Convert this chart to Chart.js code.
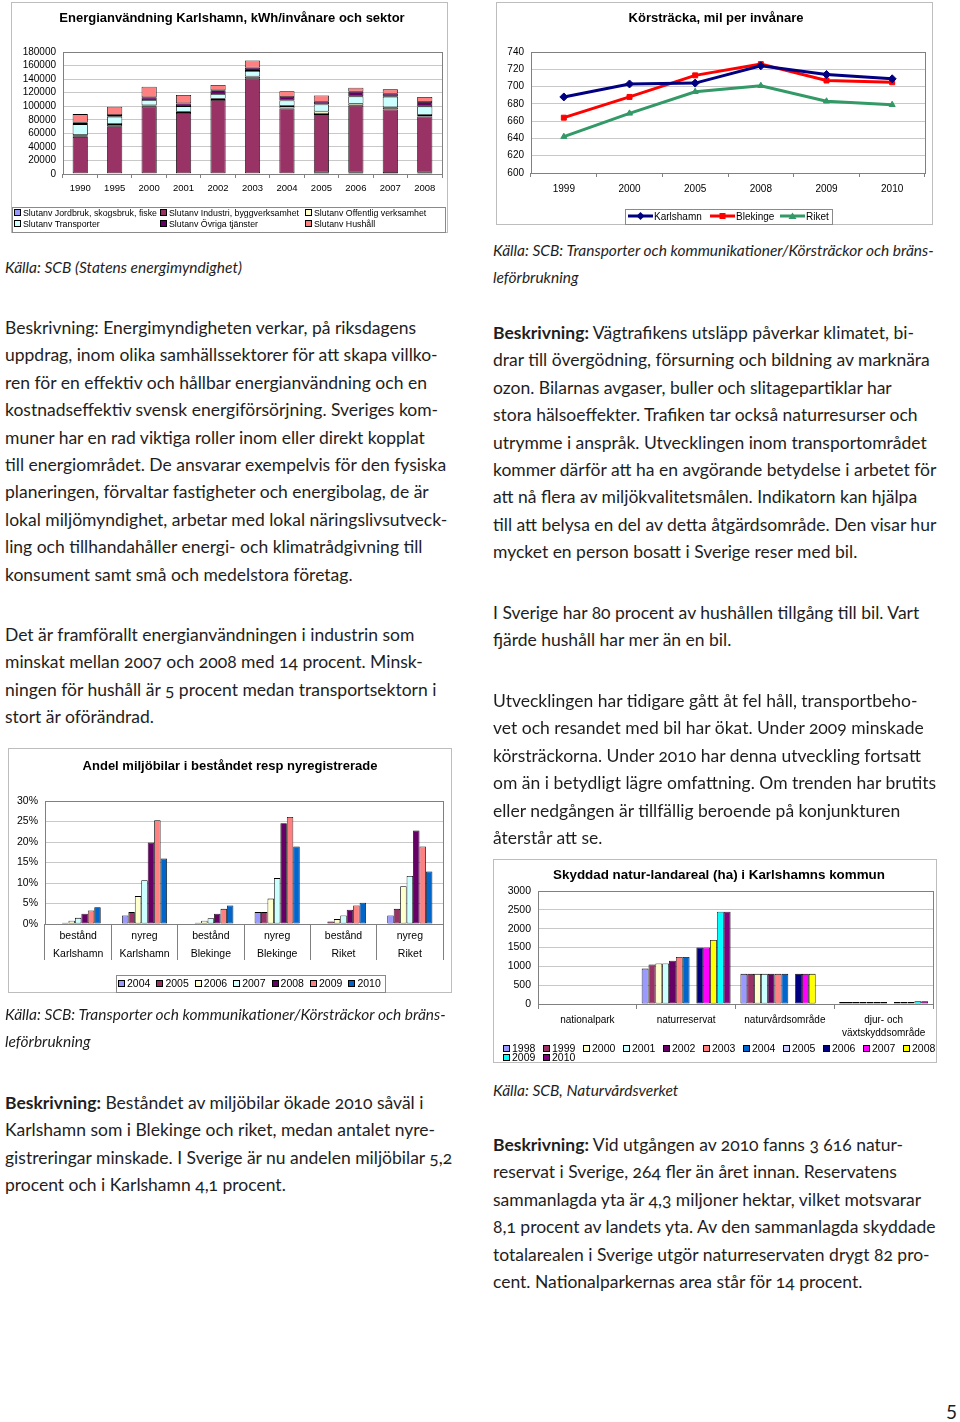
<!DOCTYPE html>
<html>
<head>
<meta charset="utf-8">
<title>Karlshamn - energi, trafik och natur</title>
<script src="https://cdn.jsdelivr.net/npm/chart.js"></script>
<style>
    body {
        margin: 0;
        width: 960px;
        height: 1422px;
        position: relative;
        background: #fff;
        font-family: Lato, 'Open Sans', sans-serif;
        color: #1e1e1e;
        overflow: hidden;
    }
    .txt {
        position: absolute;
        font-size: 17.5px;
        line-height: 27.4px;
        white-space: nowrap;
        font-variant-numeric: oldstyle-nums;
    }
    .txt b { font-weight: 700; }
    .src {
        position: absolute;
        font-size: 15.5px;
        font-style: italic;
        line-height: 27px;
        white-space: nowrap;
    }
    .box {
        position: absolute;
        border: 1px solid #bdbdbd;
        background: #fff;
    }
    canvas { position: absolute; }
    .ctitle {
        position: absolute;
        font: bold 13px 'Liberation Sans', Arial, sans-serif;
        color: #000;
        white-space: nowrap;
        transform: translateX(-50%);
        line-height: 15px;
    }
    .lbox {
        position: absolute;
        border: 1px solid #8a8a8a;
    }
    .li {
        position: absolute;
        font-family: 'Liberation Sans', Arial, sans-serif;
        color: #000;
        white-space: nowrap;
        line-height: 10px;
    }
    .li i {
        display: inline-block;
        width: 5px;
        height: 5px;
        border: 1px solid #000;
        margin-right: 2px;
        vertical-align: 0px;
    }
    .li svg { vertical-align: -1px; margin-right: 1px; }
    .pnum { position: absolute; left: 946px; top: 1400px; font-size: 19px; }
</style>
</head>
<body>

<!-- chart frames -->
<div class="box" style="left:11px; top:2px; width:435px; height:229px;"></div>
<div class="box" style="left:496px; top:2px; width:435px; height:221px;"></div>
<div class="box" style="left:8px; top:748px; width:442px; height:243px;"></div>
<div class="box" style="left:493px; top:859px; width:442px; height:202px;"></div>

<canvas id="energyChart" width="435" height="229" style="left:12px; top:3px;"></canvas>
<canvas id="distChart" width="435" height="221" style="left:497px; top:3px;"></canvas>
<canvas id="carsChart" width="442" height="243" style="left:9px; top:749px;"></canvas>
<canvas id="natureChart" width="442" height="202" style="left:494px; top:860px;"></canvas>

<div class="ctitle" style="left:232px; top:10px;">Energianvändning Karlshamn, kWh/invånare och sektor</div>
<div class="ctitle" style="left:716px; top:10px;">Körsträcka, mil per invånare</div>
<div class="ctitle" style="left:230px; top:758px;">Andel miljöbilar i beståndet resp nyregistrerade</div>
<div class="ctitle" style="left:719px; top:867px; font-size:13.4px;">Skyddad natur-landareal (ha) i Karlshamns kommun</div>

<div class="lbox" style="left:12px; top:207px; width:432px; height:24px;"></div>
<div class="lbox" style="left:625px; top:209px; width:206px; height:14px;"></div>
<div class="lbox" style="left:116px; top:975px; width:268px; height:16px;"></div>

<!-- left column text -->
<div class="src" style="left:5px; top:254px;">Källa: SCB (Statens energimyndighet)</div>

<div class="txt" style="left:5px; top:314px;">Beskrivning: Energimyndigheten verkar, på riksdagens<br>uppdrag, inom olika samhällssektorer för att skapa villko-<br>ren för en effektiv och hållbar energianvändning och en<br>kostnadseffektiv svensk energiförsörjning. Sveriges kom-<br>muner har en rad viktiga roller inom eller direkt kopplat<br>till energiområdet. De ansvarar exempelvis för den fysiska<br>planeringen, förvaltar fastigheter och energibolag, de är<br>lokal miljömyndighet, arbetar med lokal näringslivsutveck-<br>ling och tillhandahåller energi- och klimatrådgivning till<br>konsument samt små och medelstora företag.</div>

<div class="txt" style="left:5px; top:621px;">Det är framförallt energianvändningen i industrin som<br>minskat mellan 2007 och 2008 med 14 procent. Minsk-<br>ningen för hushåll är 5 procent medan transportsektorn i<br>stort är oförändrad.</div>

<div class="src" style="left:5px; top:1001px;">Källa: SCB: Transporter och kommunikationer/Körsträckor och bräns-<br>leförbrukning</div>

<div class="txt" style="left:5px; top:1089px;"><b>Beskrivning:</b> Beståndet av miljöbilar ökade 2010 såväl i<br>Karlshamn som i Blekinge och riket, medan antalet nyre-<br>gistreringar minskade. I Sverige är nu andelen miljöbilar 5,2<br>procent och i Karlshamn 4,1 procent.</div>

<!-- right column text -->
<div class="src" style="left:493px; top:237px;">Källa: SCB: Transporter och kommunikationer/Körsträckor och bräns-<br>leförbrukning</div>

<div class="txt" style="left:493px; top:319px;"><b>Beskrivning:</b> Vägtrafikens utsläpp påverkar klimatet, bi-<br>drar till övergödning, försurning och bildning av marknära<br>ozon. Bilarnas avgaser, buller och slitagepartiklar har<br>stora hälsoeffekter. Trafiken tar också naturresurser och<br>utrymme i anspråk. Utvecklingen inom transportområdet<br>kommer därför att ha en avgörande betydelse i arbetet för<br>att nå flera av miljökvalitetsmålen. Indikatorn kan hjälpa<br>till att belysa en del av detta åtgärdsområde. Den visar hur<br>mycket en person bosatt i Sverige reser med bil.</div>

<div class="txt" style="left:493px; top:599px;">I Sverige har 80 procent av hushållen tillgång till bil. Vart<br>fjärde hushåll har mer än en bil.</div>

<div class="txt" style="left:493px; top:687px;">Utvecklingen har tidigare gått åt fel håll, transportbeho-<br>vet och resandet med bil har ökat. Under 2009 minskade<br>körsträckorna. Under 2010 har denna utveckling fortsatt<br>om än i betydligt lägre omfattning. Om trenden har brutits<br>eller nedgången är tillfällig beroende på konjunkturen<br>återstår att se.</div>

<div class="src" style="left:493px; top:1077px;">Källa: SCB, Naturvårdsverket</div>

<div class="txt" style="left:493px; top:1131px;"><b>Beskrivning:</b> Vid utgången av 2010 fanns 3 616 natur-<br>reservat i Sverige, 264 fler än året innan. Reservatens<br>sammanlagda yta är 4,3 miljoner hektar, vilket motsvarar<br>8,1 procent av landets yta. Av den sammanlagda skyddade<br>totalarealen i Sverige utgör naturreservaten drygt 82 pro-<br>cent. Nationalparkernas area står för 14 procent.</div>

<div class="pnum">5</div>

<script>
    // --- Energianvändning, kWh/invånare och sektor ---
    const energyYears = ['1990', '1995', '2000', '2001', '2002', '2003', '2004', '2005', '2006', '2007', '2008'];
    const energySectors = ['Slutanv Jordbruk, skogsbruk, fiske', 'Slutanv Industri, byggverksamhet', 'Slutanv Offentlig verksamhet',
                           'Slutanv Transporter', 'Slutanv Övriga tjänster', 'Slutanv Hushåll'];
    const jordbruk    = [1000, 1000, 1000, 1000, 1000, 1000, 1000, 2000, 2000, 1500, 2000];
    const industri    = [53800, 69600, 98300, 88900, 108100, 139700, 95800, 86400, 98700, 93800, 82900];
    const offentlig   = [2500, 3000, 1900, 2000, 2000, 3000, 3400, 3900, 3000, 3000, 2000];
    const transporter = [16300, 10800, 7900, 8300, 6900, 8400, 8400, 10400, 10900, 15800, 12900];
    const ovriga      = [1900, 2500, 4000, 4000, 5500, 4900, 5000, 4000, 6900, 4400, 6400];
    const hushall     = [12900, 12400, 15800, 12300, 7900, 10400, 8400, 9300, 5900, 6400, 7400];
    const energyTicks = [0, 180000, 20000];

    // --- Körsträcka, mil per invånare ---
    const distYears = ['1999', '2000', '2005', '2008', '2009', '2010'];
    const distNames = ['Karlshamn', 'Blekinge', 'Riket'];
    const karlshamn = [688, 703, 704, 724, 714, 709];
    const blekinge  = [664, 688, 713, 726, 707, 705];
    const riket     = [642, 669, 694, 701, 683, 679];
    const distTicks = [600, 740, 20];

    // --- Andel miljöbilar (%) ---
    const carCats = [['bestånd', 'Karlshamn'], ['nyreg', 'Karlshamn'], ['bestånd', 'Blekinge'],
                     ['nyreg', 'Blekinge'], ['bestånd', 'Riket'], ['nyreg', 'Riket']];
    const carYears = ['2004', '2005', '2006', '2007', '2008', '2009', '2010'];
    const car2004 = [0.1, 2.1, 0.1, 2.9, 0.1, 2.1];
    const car2005 = [0.3, 2.9, 0.3, 2.9, 0.6, 3.7];
    const car2006 = [0.8, 6.8, 0.8, 6.2, 1.2, 9.2];
    const car2007 = [1.5, 10.7, 1.4, 11.2, 2.1, 11.7];
    const car2008 = [2.5, 19.9, 2.5, 24.6, 3.5, 22.8];
    const car2009 = [3.3, 25.3, 3.7, 26.1, 4.5, 18.9];
    const car2010 = [4.1, 16.0, 4.5, 18.9, 5.2, 12.8];
    const carTicks = [0, 30, 5];

    // --- Skyddad natur-landareal (ha) ---
    const natCats = ['nationalpark', 'naturreservat', 'naturvårdsområde', ['djur- och', 'växtskyddsområde']];
    const natYears = ['1998', '1999', '2000', '2001', '2002', '2003', '2004', '2005', '2006', '2007', '2008', '2009', '2010'];
    const nat1998 = [0, 940, 800, 50];
    const nat1999 = [0, 1050, 800, 50];
    const nat2000 = [0, 1075, 800, 50];
    const nat2001 = [0, 1075, 800, 50];
    const nat2002 = [0, 1150, 800, 50];
    const nat2003 = [0, 1250, 800, 50];
    const nat2004 = [0, 1250, 800, 50];
    const nat2005 = [null, null, null, null];
    const nat2006 = [0, 1500, 800, 50];
    const nat2007 = [0, 1500, 800, 50];
    const nat2008 = [0, 1700, 800, 50];
    const nat2009 = [0, 2450, null, 75];
    const nat2010 = [0, 2450, null, 75];
    const natTicks = [0, 3000, 500];

    const excel = ['#9999FF', '#993366', '#FFFFCC', '#CCFFFF', '#660066', '#FF8080', '#0066CC',
                   '#CCCCFF', '#000080', '#FF00FF', '#FFFF00', '#00FFFF', '#800080'];
    const lineColors = ['#000080', '#FF0000', '#339966'];
    const lineMarkers = ['rectRot', 'rect', 'triangle'];

    Chart.defaults.font.family = "'Liberation Sans', Arial, sans-serif";
    Chart.defaults.color = '#000';
    Chart.defaults.animation = false;
    Chart.defaults.plugins.legend.display = false;
    Chart.defaults.plugins.tooltip.enabled = false;

    // grey frame round the plot area, like Excel
    const frame = {
        id: 'frame',
        afterDatasetsDraw(chart) {
            const { ctx, chartArea: a } = chart;
            ctx.save();
            ctx.strokeStyle = '#808080';
            ctx.lineWidth = 1;
            ctx.strokeRect(Math.round(a.left) + 0.5, Math.round(a.top) + 0.5,
                           Math.round(a.right - a.left), Math.round(a.bottom - a.top));
            ctx.restore();
        }
    };

    function yAxis(t, width, size, extra, fmt) {
        return Object.assign({
            min: t[0], max: t[1],
            border: { display: false },
            grid: { color: '#c8c8c8', drawTicks: false },
            ticks: { stepSize: t[2], padding: 7, autoSkip: false, font: { size: size },
                     callback: fmt || (v => String(v)) },
            afterFit: s => { s.width = width; }
        }, extra || {});
    }

    function xAxis(height, size, tickLen, pad, lh) {
        return {
            offset: true,
            border: { display: false },
            grid: { offset: true, drawOnChartArea: false, color: '#808080', tickLength: tickLen },
            ticks: { autoSkip: false, maxRotation: 0, padding: pad, font: { size: size, lineHeight: lh || 1.2 } },
            afterFit: s => { s.height = height; }
        };
    }

    // chart 1
    const energySeries = [jordbruk, industri, offentlig, transporter, ovriga, hushall];
    new Chart(document.getElementById('energyChart'), {
        type: 'bar',
        data: {
            labels: energyYears,
            datasets: energySeries.map((d, i) => ({
                label: energySectors[i], data: d, backgroundColor: excel[i],
                borderColor: '#000', borderWidth: 0.8, borderSkipped: false
            }))
        },
        options: {
            responsive: false, devicePixelRatio: 1,
            layout: { padding: { left: 0, right: 5, top: 49, bottom: 0 } },
            datasets: { bar: { categoryPercentage: 0.44, barPercentage: 1 } },
            scales: {
                x: Object.assign(xAxis(58, 9.5, 4, 5), { stacked: true }),
                y: yAxis(energyTicks, 51, 10, { stacked: true })
            }
        },
        plugins: [frame]
    });

    // chart 2
    const distSeries = [karlshamn, blekinge, riket];
    new Chart(document.getElementById('distChart'), {
        type: 'line',
        data: {
            labels: distYears,
            datasets: distSeries.map((d, i) => ({
                label: distNames[i], data: d,
                borderColor: lineColors[i], backgroundColor: lineColors[i],
                borderWidth: 3, pointStyle: lineMarkers[i], pointRadius: i === 0 ? 4 : 3.5,
                pointBorderWidth: 1, tension: 0
            }))
        },
        options: {
            responsive: false, devicePixelRatio: 1,
            layout: { padding: { left: 0, right: 7, top: 49, bottom: 0 } },
            scales: {
                x: xAxis(51, 10, 4, 6),
                y: yAxis(distTicks, 34, 10)
            }
        },
        plugins: [frame]
    });

    // chart 3
    const carSeries = [car2004, car2005, car2006, car2007, car2008, car2009, car2010];
    new Chart(document.getElementById('carsChart'), {
        type: 'bar',
        data: {
            labels: carCats,
            datasets: carSeries.map((d, i) => ({
                label: carYears[i], data: d, backgroundColor: excel[i],
                borderColor: '#000', borderWidth: 0.8, borderSkipped: false
            }))
        },
        options: {
            responsive: false, devicePixelRatio: 1,
            layout: { padding: { left: 0, right: 8, top: 52, bottom: 0 } },
            datasets: { bar: { categoryPercentage: 0.68, barPercentage: 1 } },
            scales: {
                x: xAxis(68, 10.5, 36, -33, 1.71),
                y: yAxis(carTicks, 36, 10.5, {}, v => v + '%')
            }
        },
        plugins: [frame]
    });

    // chart 4
    const natSeries = [nat1998, nat1999, nat2000, nat2001, nat2002, nat2003, nat2004,
                       nat2005, nat2006, nat2007, nat2008, nat2009, nat2010];
    new Chart(document.getElementById('natureChart'), {
        type: 'bar',
        data: {
            labels: natCats,
            datasets: natSeries.map((d, i) => ({
                label: natYears[i], data: d, backgroundColor: excel[i],
                borderColor: '#000', borderSkipped: false,
                borderWidth: c => (c.raw ? 0.8 : 0)
            }))
        },
        options: {
            responsive: false, devicePixelRatio: 1,
            layout: { padding: { left: 0, right: 3, top: 31, bottom: 0 } },
            datasets: { bar: { categoryPercentage: 0.9, barPercentage: 1 } },
            scales: {
                x: xAxis(58, 10, 5, 4.5, 1.3),
                y: yAxis(natTicks, 44, 10.5)
            }
        },
        plugins: [frame]
    });

    // legends (html, built from the same names and colours)
    function addItem(html, x, y, size) {
        const el = document.createElement('div');
        el.className = 'li';
        el.style.left = x + 'px';
        el.style.top = (y - 5) + 'px';
        el.style.fontSize = size + 'px';
        el.innerHTML = html;
        document.body.appendChild(el);
    }

    energySectors.forEach((name, i) => {
        const col = [14, 160, 305][i % 3];
        const row = [213, 224][Math.floor(i / 3)];
        addItem(`<i style="background:${excel[i]}"></i>${name}`, col, row, 8.8);
    });

    distNames.forEach((name, i) => {
        const x = [628, 710, 780][i];
        const c = lineColors[i];
        let mark;
        if (i === 0) mark = `<polygon points="12.5,1 16.5,5 12.5,9 8.5,5" fill="${c}"/>`;
        else if (i === 1) mark = `<rect x="9.5" y="2" width="6" height="6" fill="${c}"/>`;
        else mark = `<polygon points="12.5,1.5 16.5,8 8.5,8" fill="${c}"/>`;
        addItem(`<svg width="25" height="10"><line x1="0" y1="5" x2="25" y2="5" stroke="${c}" stroke-width="3"/>${mark}</svg>${name}`,
                x, 216, 10);
    });

    carYears.forEach((y, i) => {
        addItem(`<i style="background:${excel[i]}"></i>${y}`, 118 + i * 38.4, 983, 10.5);
    });

    natYears.forEach((y, i) => {
        addItem(`<i style="background:${excel[i]}"></i>${y}`, 503 + (i % 11) * 40, i < 11 ? 1048 : 1057, 10.5);
    });
</script>
</body>
</html>
